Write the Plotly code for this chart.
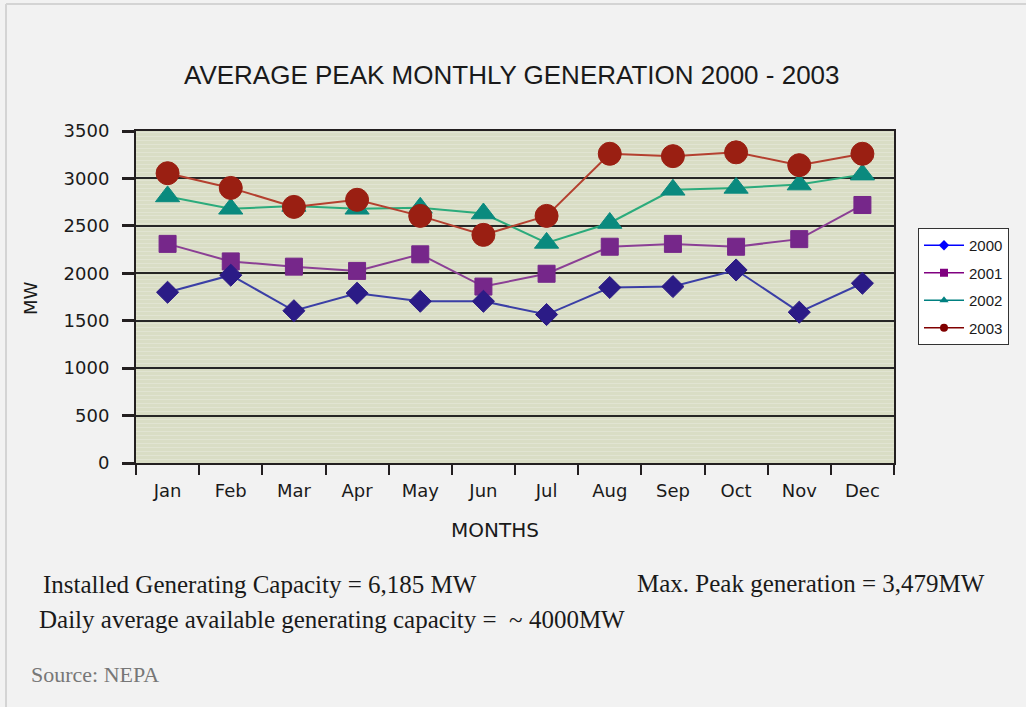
import plotly.graph_objects as go

# Monthly average peak generation (MW)
months = ["Jan", "Feb", "Mar", "Apr", "May", "Jun",
          "Jul", "Aug", "Sep", "Oct", "Nov", "Dec"]
gen_2000 = [1800, 1980, 1605, 1790, 1705, 1705, 1565, 1850, 1860, 2035, 1590, 1895]
gen_2001 = [2310, 2125, 2070, 2025, 2200, 1860, 1995, 2280, 2310, 2280, 2360, 2720]
gen_2002 = [2810, 2680, 2710, 2680, 2690, 2630, 2320, 2530, 2880, 2900, 2935, 3040]
gen_2003 = [3055, 2900, 2700, 2775, 2605, 2405, 2605, 3260, 3235, 3275, 3140, 3260]
y_ticks = [0, 500, 1000, 1500, 2000, 2500, 3000, 3500]

W, H = 1026, 707
L, R, T, B = 136, 894, 131, 463          # plot area edges in px


def px_x(px):
    return (px - L) / (R - L)


def px_y(py):
    return (B - py) / (B - T)


series = [
    # name, values, symbol, size, marker colour, line colour, legend colour
    ("2001", gen_2001, "square", 17, "#76278a", "#8b3f95", "#800080"),
    ("2000", gen_2000, "diamond", 17, "#2b1b86", "#3b3fa6", "#0000ff"),
    ("2002", gen_2002, "triangle-up", 21, "#0a8a7e", "#2bab7c", "#008080"),
    ("2003", gen_2003, "circle", 23, "#9a1f12", "#b4402f", "#800000"),
]

fig = go.Figure()
for name, vals, sym, size, mcol, lcol, _ in series:
    fig.add_trace(go.Scatter(
        x=months, y=vals, mode="lines+markers", name=name, showlegend=False,
        line=dict(color=lcol, width=2),
        marker=dict(symbol=sym, size=size, color=mcol,
                    line=dict(color=mcol, width=1)),
    ))

# Small-symbol legend entries in year order, one group each for even spacing
legend_style = {s[0]: s for s in series}
for name in ["2000", "2001", "2002", "2003"]:
    _, _, sym, _, _, _, lgcol = legend_style[name]
    fig.add_trace(go.Scatter(
        x=[months[0]], y=[None], mode="lines+markers", name=name,
        legendgroup=name,
        line=dict(color=lgcol, width=1.5),
        marker=dict(symbol=sym, size=8, color=lgcol),
    ))

frame = "#d4d4d4"
shapes = [
    dict(type="line", xref="paper", yref="paper",
         x0=px_x(6), x1=px_x(W + 5), y0=px_y(4), y1=px_y(4),
         line=dict(color=frame, width=2)),
    dict(type="line", xref="paper", yref="paper",
         x0=px_x(6), x1=px_x(6), y0=px_y(4), y1=px_y(H + 5),
         line=dict(color=frame, width=2)),
]

serif = "Liberation Serif, Times New Roman, serif"
annotations = [
    dict(text="AVERAGE PEAK MONTHLY GENERATION 2000 - 2003",
         x=px_x(512), y=px_y(75), xref="paper", yref="paper",
         xanchor="center", yanchor="middle", showarrow=False,
         font=dict(family="Liberation Sans, Arial", size=26, color="#1a1a1a")),
    dict(text="MW", x=px_x(30), y=px_y(298), xref="paper", yref="paper",
         xanchor="center", yanchor="middle", showarrow=False, textangle=-90,
         font=dict(family="DejaVu Sans", size=18, color="#1a1a1a")),
    dict(text="MONTHS", x=px_x(495), y=px_y(530), xref="paper", yref="paper",
         xanchor="center", yanchor="middle", showarrow=False,
         font=dict(family="DejaVu Sans", size=20, color="#1a1a1a")),
    dict(text="Installed Generating Capacity = 6,185 MW",
         x=px_x(41), y=px_y(584), xref="paper", yref="paper",
         xanchor="left", yanchor="middle", showarrow=False,
         font=dict(family=serif, size=25, color="#1a1a1a")),
    dict(text="Max. Peak generation = 3,479MW",
         x=px_x(635), y=px_y(583), xref="paper", yref="paper",
         xanchor="left", yanchor="middle", showarrow=False,
         font=dict(family=serif, size=25, color="#1a1a1a")),
    dict(text="Daily average available generating capacity =  ~ 4000MW",
         x=px_x(37), y=px_y(619), xref="paper", yref="paper",
         xanchor="left", yanchor="middle", showarrow=False,
         font=dict(family=serif, size=25, color="#1a1a1a")),
    dict(text="Source: NEPA",
         x=px_x(29), y=px_y(674), xref="paper", yref="paper",
         xanchor="left", yanchor="middle", showarrow=False,
         font=dict(family=serif, size=22, color="#777777")),
]

axis_col = "#231f20"
fig.update_layout(
    width=W, height=H,
    margin=dict(l=L, r=W - R, t=T, b=H - B, pad=0),
    paper_bgcolor="#f2f2f2",
    plot_bgcolor="#d9ddc5",
    shapes=shapes,
    annotations=annotations,
    legend=dict(
        x=px_x(918), y=px_y(228), xanchor="left", yanchor="top",
        bgcolor="#ffffff", bordercolor="#333333", borderwidth=1,
        font=dict(family="Liberation Sans, Arial", size=15, color="#1a1a1a"),
        tracegroupgap=5, itemwidth=40,
    ),
    xaxis=dict(
        type="category", categoryorder="array", categoryarray=months,
        range=[-0.5, 11.5], tickson="boundaries",
        ticks="outside", ticklen=10, tickwidth=2, tickcolor=axis_col,
        showline=True, linecolor=axis_col, linewidth=2, mirror=True,
        showgrid=False, zeroline=False, ticklabelstandoff=10,
        tickfont=dict(family="DejaVu Sans", size=18, color="#1a1a1a"),
    ),
    yaxis=dict(
        range=[0, 3500], tickvals=y_ticks,
        ticks="outside", ticklen=12, tickwidth=3, tickcolor=axis_col,
        showline=True, linecolor=axis_col, linewidth=2, mirror=True,
        showgrid=True, gridcolor="#262626", gridwidth=2, zeroline=False,
        ticklabelstandoff=9,
        tickfont=dict(family="DejaVu Sans", size=18, color="#1a1a1a"),
        minor=dict(dtick=42, showgrid=True, gridcolor="#e1e4d2", gridwidth=1),
    ),
)

fig.write_html("out.html")
